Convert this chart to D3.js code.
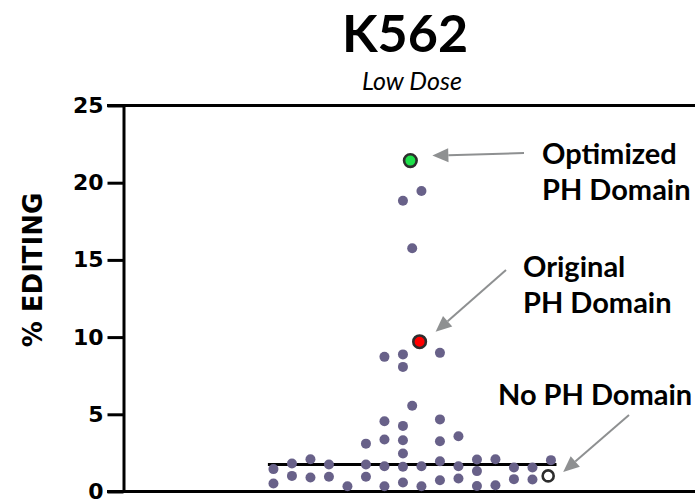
<!DOCTYPE html>
<html>
<head>
<meta charset="utf-8">
<script src="https://cdn.jsdelivr.net/npm/d3@7"></script>
<style>
  body { margin: 0; background: #fff; }
  svg { display: block; }
</style>
</head>
<body>
<script>
// % editing per construct, K562 low dose
var values = [
  19.46, 18.83, 15.75, 8.98, 8.88, 8.72, 8.07, 5.55, 4.67, 4.55, 4.25,
  3.58, 3.37, 3.32, 3.26, 3.10, 2.46,
  1.45, 1.81, 2.09, 1.75, 1.75, 1.64, 1.60, 1.64, 1.96, 1.64, 2.07, 2.09, 1.55, 1.55, 2.03,
  0.52, 1.01, 0.91, 0.95, 0.34, 0.95, 0.34, 0.58, 0.34, 0.73, 0.84, 1.32, 0.36, 0.41, 0.80, 0.78
];
// scatter column of each point (swarm slot, in symbol widths from the centre)
var slots = [
  0.5, -0.5, 0, 1.5, -0.5, -1.5, -0.5, 0, 1.5, -1.5, -0.5,
  2.5, -1.5, -0.5, 1.5, -2.5, -0.5,
  -7.5, -6.5, -5.5, -4.5, -2.5, -1.5, -0.5, 0.5, 1.5, 2.5, 3.5, 4.5, 5.5, 6.5, 7.5,
  -7.5, -6.5, -5.5, -4.5, -3.5, -2.5, -1.5, -0.5, 0.5, 1.5, 2.5, 3.5, 3.5, 4.5, 5.5, 6.5
];
var highlightNames = ["Optimized", "Original", "None"];
var highlightValues = [21.43, 9.70, 1.01];
var highlightSlots = [-0.1, 0.4, 7.35];
var labels = [["Optimized", "PH Domain"], ["Original", "PH Domain"], ["No PH Domain"]];
var yTicks = [0, 5, 10, 15, 20, 25];

var width = 695, height = 502;
var svg = d3.select("body").append("svg")
    .attr("width", width)
    .attr("height", height);

var y = d3.scaleLinear().domain([0, 25]).range([491.5, 105.5]);
var x = d3.scaleLinear().domain([-8, 8]).range([264.2, 560.2]);
var axisX = 123.5;

var purple = "#686189";

// frame lines
svg.append("line")
    .attr("x1", 107).attr("x2", width)
    .attr("y1", y(0)).attr("y2", y(0))
    .attr("stroke", "#000").attr("stroke-width", 3);
svg.append("line")
    .attr("x1", 107).attr("x2", width)
    .attr("y1", y(25)).attr("y2", y(25))
    .attr("stroke", "#000").attr("stroke-width", 3);

// y axis
var yAxis = d3.axisLeft(y)
    .tickValues(yTicks)
    .tickSize(16)
    .tickPadding(4)
    .tickSizeOuter(0);

var gy = svg.append("g")
    .attr("transform", "translate(" + axisX + ",0)")
    .call(yAxis);
gy.select(".domain").attr("stroke", "#000").attr("stroke-width", 3);
gy.selectAll(".tick line").attr("stroke", "#000").attr("stroke-width", 3);
gy.selectAll(".tick text")
    .attr("fill", "#000")
    .style("font-family", "DejaVu Sans")
    .style("font-weight", "bold")
    .style("font-size", "22px");

svg.append("text")
    .attr("transform", "translate(42,270)rotate(-90)")
    .attr("text-anchor", "middle")
    .style("font-family", "DejaVu Sans")
    .style("font-weight", "bold")
    .style("font-size", "26px")
    .text("% EDITING");

// titles
svg.append("text")
    .attr("x", 405).attr("y", 52)
    .attr("text-anchor", "middle")
    .style("font-family", "Lato")
    .style("font-weight", "bold")
    .style("font-size", "52px")
    .text("K562");
svg.append("text")
    .attr("x", 412).attr("y", 90)
    .attr("text-anchor", "middle")
    .style("font-family", "Lato")
    .style("font-style", "italic")
    .style("font-size", "25px")
    .text("Low Dose");

// median line
var med = d3.median(values.concat(highlightValues));
svg.append("line")
    .attr("x1", x(-7.8)).attr("x2", x(7.8))
    .attr("y1", y(med)).attr("y2", y(med))
    .attr("stroke", "#000").attr("stroke-width", 3);

// points
svg.append("g").selectAll("circle")
    .data(values)
  .enter().append("circle")
    .attr("cx", function(d, i) { return x(slots[i]); })
    .attr("cy", function(d) { return y(d); })
    .attr("r", 5)
    .attr("fill", purple);

var hlFill = ["#1ee04a", "#ff0000", "#ffffff"];
svg.append("g").selectAll("circle")
    .data(highlightValues)
  .enter().append("circle")
    .attr("cx", function(d, i) { return x(highlightSlots[i]); })
    .attr("cy", function(d) { return y(d); })
    .attr("r", function(d, i) { return i == 2 ? 5.5 : 6.3; })
    .attr("fill", function(d, i) { return hlFill[i]; })
    .attr("stroke", "#2d2d2d")
    .attr("stroke-width", 2.6);

// annotations: label position, arrow start and arrow tip offset from its point
var labelPos = [[542, 164], [523, 277], [498, 405]];
var arrowFrom = [[524, 153], [506, 270], [629, 415]];
var tipOffset = [[22, -5], [16, -10], [15, -4]];
var grey = "#8e9091";

labels.forEach(function(lines, i) {
  var t = svg.append("text")
      .attr("x", labelPos[i][0]).attr("y", labelPos[i][1])
      .style("font-family", "Lato")
      .style("font-weight", "bold")
      .style("font-size", "29px")
      .attr("fill", "#000");
  lines.forEach(function(s, j) {
    t.append("tspan")
        .attr("x", labelPos[i][0])
        .attr("dy", j == 0 ? 0 : 36)
        .text(s);
  });

  var tx = x(highlightSlots[i]) + tipOffset[i][0],
      ty = y(highlightValues[i]) + tipOffset[i][1],
      sx = arrowFrom[i][0], sy = arrowFrom[i][1];
  var a = Math.atan2(ty - sy, tx - sx),
      len = 16, half = 7;
  var bx = tx - len * Math.cos(a), by = ty - len * Math.sin(a);
  svg.append("line")
      .attr("x1", sx).attr("y1", sy)
      .attr("x2", bx).attr("y2", by)
      .attr("stroke", grey).attr("stroke-width", 2);
  var pts = [
    [tx, ty],
    [bx + half * Math.sin(a), by - half * Math.cos(a)],
    [bx - half * Math.sin(a), by + half * Math.cos(a)]
  ];
  svg.append("path")
      .attr("d", "M" + pts.join("L") + "Z")
      .attr("fill", grey);
});
</script>
</body>
</html>
